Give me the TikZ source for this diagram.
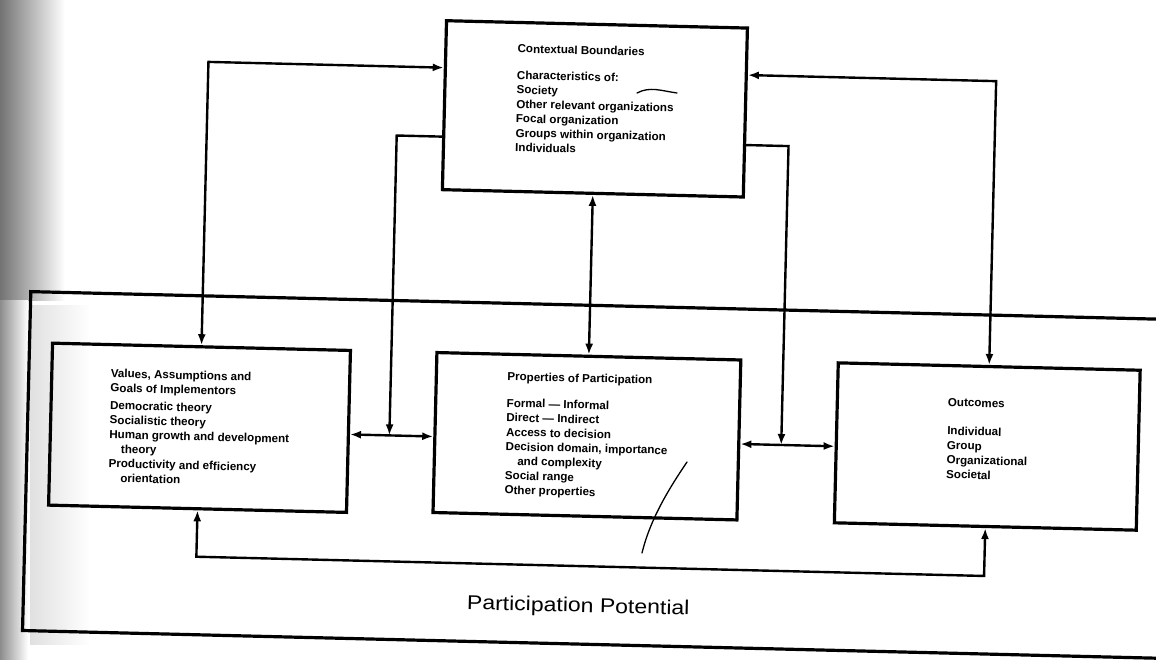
\documentclass[tikz,border=0pt]{standalone}
\usepackage{fontspec}
\setmainfont{Liberation Sans}
\newfontfamily\widesans[FakeStretch=1.15]{Liberation Sans}
\usetikzlibrary{arrows.meta,calc}

\tikzset{
  box/.style={draw, line width=3.2pt, align=left, inner sep=0pt,
    font=\bfseries\fontsize{11.6}{14.5}\selectfont},
  tip/.tip={Latex[length=11pt,width=8pt]},
  link/.style={line width=2.4pt, tip-tip},
  feed/.style={line width=2.4pt, -tip},
  frame/.style={line width=3.2pt},
  pen/.style={line width=1.3pt, line cap=round},
}

\begin{document}
\begin{tikzpicture}[x=1pt,y=1pt]
\useasboundingbox (0,0) rectangle (1156,-660);
\clip (0,0) rectangle (1156,-660);

% shadow along the bound edge of the page
\shade[left color=black!55, right color=white] (0,0) rectangle (65,-300);
\shade[left color=black!45, right color=white] (0,-300) rectangle (28,-660);
\shade[left color=black!12, right color=white] (30,-305) rectangle (90,-644);

\begin{scope}[rotate around={-1.4:(578,-330)}, transform shape]

  % outer frame of the participation potential region
  \draw[frame] (1200,-305) -- (30,-305) -- (30,-644) -- (1200,-644);

  % boxes
  \node[box, minimum width=301pt, minimum height=169pt] (ctx) at (589.5,-108.5)
    {Contextual Boundaries\\[12pt]
     Characteristics of:\\
     Society\\
     Other relevant organizations\\
     Focal organization\\
     Groups within organization\\
     Individuals\\[3.5pt]
     \mbox{}};

  \node[box, minimum width=298pt, minimum height=162pt] (val) at (202,-437)
    {Values, Assumptions and\\
     Goals of Implementors\\[3pt]
     Democratic theory\\
     Socialistic theory\\
     Human growth and development\\
     \hspace*{12pt}theory\\
     Productivity and efficiency\\
     \hspace*{12pt}orientation};

  \node[box, minimum width=304pt, minimum height=160pt] (prop) at (589.5,-436)
    {Properties of Participation\\[12pt]
     Formal --- Informal\\
     Direct --- Indirect\\
     Access to decision\\
     Decision domain, importance\\
     \hspace*{12pt}and complexity\\
     Social range\\
     Other properties};

  \node[box, minimum width=302pt, minimum height=160pt] (out) at (990,-436.5)
    {Outcomes\\[14pt]
     Individual\\
     Group\\
     Organizational\\
     Societal\\
     \mbox{}};

  \node[font=\widesans\fontsize{20}{22}\selectfont] (pp) at (585,-607) {Participation Potential};

  % corner and junction points of the connectors
  \coordinate (cA) at (202,-71);
  \coordinate (cB) at (990,-71);
  \coordinate (cC) at (392,-140);
  \coordinate (jL) at (392,-440);
  \coordinate (cD) at (784,-141);
  \coordinate (jR) at (784,-440);
  \coordinate (cE) at (202,-566);
  \coordinate (cF) at (990,-566);

  % connectors
  \draw[link] (ctx.west |- cA) -- (cA) -- (val.north);
  \draw[link] (ctx.east |- cB) -- (cB) -- (out.north);
  \draw[link] (ctx.south) -- (prop.north);
  \draw[feed] (ctx.west |- cC) -- (cC) -- (jL);
  \draw[feed] (ctx.east |- cD) -- (cD) -- (jR);
  \draw[link] (val.east |- jL) -- (prop.west |- jL);
  \draw[link] (prop.east |- jR) -- (out.west |- jR);
  \draw[link] (val.south) -- (cE) -- (cF) -- (out.south);
\end{scope}

% pen marks
\draw[pen] (637,-93) .. controls (650,-86) and (662,-91) .. (677,-93);
\draw[pen] (687,-462) .. controls (668,-490) and (650,-520) .. (642,-553);
\end{tikzpicture}
\end{document}
